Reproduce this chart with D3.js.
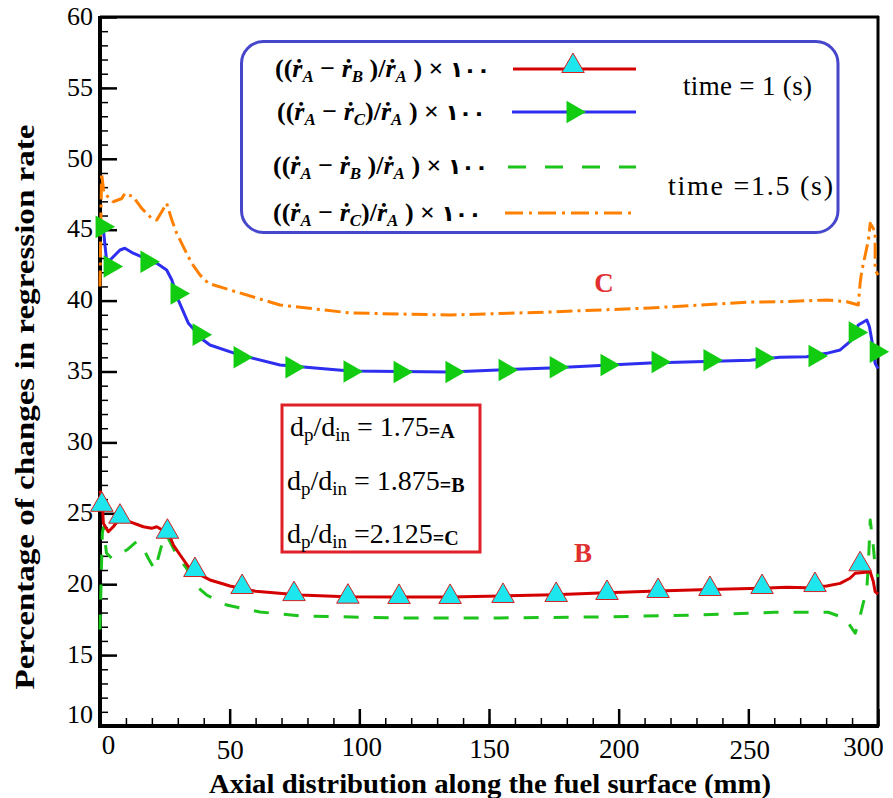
<!DOCTYPE html>
<html>
<head>
<meta charset="utf-8">
<script src="https://cdn.jsdelivr.net/npm/d3@7"></script>
<style>
  body { margin: 0; background: #fff; }
  text { font-family: "Liberation Serif", "Times New Roman", serif; }
</style>
</head>
<body>
<div id="chart"></div>
<script>

var width = 893;
var height = 798;

// axis ticks
var xTicks = [0, 50, 100, 150, 200, 250, 300];
var yTicks = [10, 15, 20, 25, 30, 35, 40, 45, 50, 55, 60];

// time = 1 s, (rA - rB)/rA
var curveB1 = [[0, 26.6], [0.7, 26.2], [1.3, 24.3], [3.2, 23.7], [5.1, 24.05], [7.7, 24.65], [11.6, 24.4],
	[16.7, 24.05], [19.9, 23.94], [21.9, 24.05], [25.1, 23.7], [27, 23.35], [28.3, 22.76], [30.9, 22.06],
	[34.1, 21.23], [37.3, 20.77], [42.4, 20.3], [47.6, 20.01], [50.1, 19.87], [60, 19.5], [77.1, 19.24],
	[95, 19.12], [115.7, 19.1], [135, 19.1], [154.3, 19.17], [175, 19.25], [192.8, 19.38], [215, 19.52],
	[231.4, 19.6], [254.5, 19.71], [264.8, 19.78], [272.5, 19.75], [280.2, 19.87], [285.4, 20.06],
	[289.2, 20.42], [291.2, 20.77], [297, 20.88], [298.2, 20.18], [298.9, 19.47], [300, 19.3]];
var markB1 = [[0.7, 25.6], [7.7, 24.76], [26, 23.7], [36.6, 21], [54.8, 19.8], [74.8, 19.3], [95.6, 19.12],
	[115.3, 19.1], [135, 19.1], [155.4, 19.17], [175.9, 19.24], [195.5, 19.38], [215.2, 19.52],
	[235.2, 19.66], [255.3, 19.8], [275.7, 19.94], [293.1, 21.4]];

// time = 1 s, (rA - rC)/rA
var curveC1 = [[0, 45.6], [1.2, 45.2], [2.5, 42.9], [3.9, 42.86], [7.7, 43.57], [9.6, 43.69], [12.8, 43.34],
	[21.9, 42.63], [25.7, 42.16], [27.7, 41.45], [30.2, 40.04], [34.1, 38.4], [39.8, 37.22], [42.4, 36.87],
	[54, 36.16], [69.4, 35.46], [96.4, 35.04], [135, 34.97], [173.5, 35.25], [212, 35.6], [250.7, 35.8],
	[262.2, 36.0], [272.5, 36.04], [280.2, 36.28], [285.4, 36.52], [289.2, 37.1], [292.4, 38.28],
	[295.7, 38.63], [296.7, 38.16], [297.6, 37.22], [298.9, 35.58], [300, 35.2]];
var markC1 = [[0.8, 45.2], [3.9, 42.4], [18.1, 42.74], [29.7, 40.5], [38.2, 37.6], [54, 36], [74, 35.3],
	[96.4, 35.0], [115.7, 34.97], [135.7, 34.97], [156.2, 35.1], [175.9, 35.3], [195.5, 35.46],
	[215.2, 35.67], [235.2, 35.8], [255.3, 35.95], [275.7, 36.1], [291.2, 37.75], [299.3, 36.4]];

// time = 1.5 s, (rA - rB)/rA
var curveB15 = [[0, 16.8], [0.4, 20], [0.9, 23.6], [1.3, 24], [2.5, 22.2], [4.5, 21.83], [6.4, 22.06],
	[10.3, 22.41], [14.1, 23.0], [16.5, 22.6], [18.6, 21.83], [21.2, 21.0], [23.8, 22.76], [25.7, 23.47],
	[29.6, 22.06], [33.4, 21.12], [36.6, 19.94], [41.1, 19.24], [48.9, 18.53], [61.7, 18.04], [77.1, 17.76],
	[115.7, 17.62], [154.3, 17.62], [192.8, 17.69], [231.4, 17.83], [260, 18.02], [280.8, 18.02],
	[287.3, 17.6], [291.2, 16.54], [292.4, 17.24], [295.7, 19.71], [296.3, 21.47], [297, 24.53],
	[298.2, 22.64], [298.9, 21.23], [300, 20.5]];

// time = 1.5 s, (rA - rC)/rA
var curveC15 = [[0, 41], [0.3, 45], [0.6, 49], [1.5, 47.6], [5.1, 46.97], [8.4, 47.2], [9.6, 47.56],
	[12.8, 47.33], [16.1, 46.5], [19.9, 45.8], [21.9, 45.68], [23.8, 46.27], [25.7, 46.86], [27.7, 45.68],
	[29.6, 44.74], [31.5, 44.04], [33.4, 43.33], [35.4, 42.63], [38.6, 41.8], [41.8, 41.22], [50.1, 40.75],
	[69.4, 39.69], [96.4, 39.13], [135, 38.98], [173.5, 39.2], [212.1, 39.48], [250.7, 39.9],
	[262.2, 39.92], [280.2, 40.04], [288, 39.92], [292.4, 39.69], [293.1, 41.22], [293.7, 42.04],
	[296.3, 44.27], [297, 45.45], [298.9, 44.86], [298.9, 42.16], [300, 41.8]];

var redLine = '#d40000', blueLine = '#2e2ef0', greenLine = '#1cc41c', orangeLine = '#ff8000';

var svg = d3.select('#chart')
	.append('svg')
	.attr('width', width)
	.attr('height', height);

var x = d3.scaleLinear().domain([0, 300]).range([100, 878]);
var y = d3.scaleLinear().domain([10, 60]).range([726, 17]);

// minor ticks (inside)
svg.append('g')
	.attr('transform', 'translate(0,726)')
	.call(d3.axisBottom(x).tickValues(d3.range(0, 301, 10)).tickSize(-8).tickFormat(''))
	.call(function(g) { g.select('.domain').remove(); g.selectAll('line').attr('stroke-width', 1.5); });
svg.append('g')
	.attr('transform', 'translate(100,0)')
	.call(d3.axisLeft(y).tickValues(d3.range(10, 61, 1)).tickSize(-8).tickFormat(''))
	.call(function(g) { g.select('.domain').remove(); g.selectAll('line').attr('stroke-width', 1.5); });

// major ticks with labels; the x labels sit a bit unevenly in the original
var xLabelShift = { 0: [8, 0], 50: [0, 5], 100: [2, 2], 150: [0, 4], 200: [0, 4], 250: [1, 5], 300: [-15, 2] };

var xAxis = svg.append('g')
	.attr('transform', 'translate(0,726)')
	.call(d3.axisBottom(x).tickValues(xTicks).tickSize(-17).tickPadding(9));
xAxis.select('.domain').remove();
xAxis.selectAll('line').attr('stroke-width', 2.5);
xAxis.selectAll('text')
	.attr('font-family', '"Liberation Serif", serif')
	.attr('font-size', 27)
	.attr('fill', '#000')
	.attr('transform', function(d) { return 'translate(' + xLabelShift[d][0] + ',' + xLabelShift[d][1] + ')'; });

var yAxis = svg.append('g')
	.attr('transform', 'translate(100,0)')
	.call(d3.axisLeft(y).tickValues(yTicks).tickSize(-17).tickPadding(7));
yAxis.select('.domain').remove();
yAxis.selectAll('line').attr('stroke-width', 2.5);
yAxis.selectAll('text')
	.attr('font-family', '"Liberation Serif", serif')
	.attr('font-size', 26)
	.attr('fill', '#000')
	.attr('dy', function(d) { return d == 10 ? '-0.12em' : '0.28em'; });

// frame
svg.append('line').attr('x1', 100).attr('x2', 100).attr('y1', 16).attr('y2', 728)
	.attr('stroke', '#000').attr('stroke-width', 4);
svg.append('line').attr('x1', 98).attr('x2', 879).attr('y1', 726).attr('y2', 726)
	.attr('stroke', '#000').attr('stroke-width', 4);
svg.append('line').attr('x1', 100).attr('x2', 879).attr('y1', 17).attr('y2', 17)
	.attr('stroke', '#000').attr('stroke-width', 3);
svg.append('line').attr('x1', 878).attr('x2', 878).attr('y1', 16).attr('y2', 727)
	.attr('stroke', '#000').attr('stroke-width', 3);

var line = d3.line()
	.x(function(d) { return x(d[0]); })
	.y(function(d) { return y(d[1]); });

function drawCurve(data, color, dash) {
	svg.append('path')
		.datum(data)
		.attr('d', line)
		.attr('fill', 'none')
		.attr('stroke', color)
		.attr('stroke-width', 3)
		.attr('stroke-linejoin', 'round')
		.attr('stroke-dasharray', dash);
}

drawCurve(curveC15, orangeLine, '16,5,3,5');
drawCurve(curveB15, greenLine, '15,15');
drawCurve(curveC1, blueLine, null);
drawCurve(curveB1, redLine, null);

var tri = d3.symbol().type(d3.symbolTriangle).size(220);

svg.selectAll('.markC')
	.data(markC1).enter()
	.append('path')
	.attr('d', tri)
	.attr('transform', function(d) { return 'translate(' + x(d[0]) + ',' + y(d[1]) + ') rotate(90)'; })
	.attr('fill', '#12cc12');

svg.selectAll('.markB')
	.data(markB1).enter()
	.append('path')
	.attr('d', tri)
	.attr('transform', function(d) { return 'translate(' + x(d[0]) + ',' + y(d[1]) + ')'; })
	.attr('fill', '#1ee6ee')
	.attr('stroke', '#d42020')
	.attr('stroke-width', 1);

// curve labels
svg.append('text').attr('x', 604).attr('y', 292).attr('text-anchor', 'middle')
	.attr('font-size', 27).attr('font-weight', 'bold').attr('fill', '#e03030').text('C');
svg.append('text').attr('x', 583).attr('y', 562).attr('text-anchor', 'middle')
	.attr('font-size', 27).attr('font-weight', 'bold').attr('fill', '#e03030').text('B');

// legend box
svg.append('rect')
	.attr('x', 241.5).attr('y', 41.5)
	.attr('width', 596.5).attr('height', 191)
	.attr('rx', 22)
	.attr('fill', '#fff')
	.attr('stroke', '#4646cc')
	.attr('stroke-width', 3);

function rateText(tx, ty, sub2) {
	var t = svg.append('text')
		.attr('x', tx).attr('y', ty)
		.attr('font-size', 26)
		.attr('font-weight', 'bold')
		.attr('fill', '#000');
	var gap = sub2 == 'B' ? ' )/' : ')/';
	var parts = [['((', 0], ['\u1E59', 1], ['A', 2], [' \u2212 ', 0], ['\u1E59', 1], [sub2, 2],
		[gap, 0], ['\u1E59', 1], ['A', 2], [' ) \u00D7 ', 0], ['\u0661\u0660\u0660', 3]];
	var shifted = false;
	parts.forEach(function(p) {
		var s = t.append('tspan').text(p[0]);
		if (p[1] == 1) s.attr('font-style', 'italic');
		if (p[1] == 2) {
			s.attr('font-style', 'italic').attr('font-size', 17).attr('dy', 5);
			shifted = true;
		} else if (shifted) {
			s.attr('dy', -5);
			shifted = false;
		}
		if (p[1] == 3) s.attr('font-family', '"DejaVu Sans", sans-serif').attr('font-size', 22).attr('letter-spacing', 2);
	});
}

rateText(275, 77, 'B');
rateText(277, 120, 'C');
rateText(273, 174, 'B');
rateText(273, 221, 'C');

// legend samples
svg.append('line').attr('x1', 513).attr('x2', 636).attr('y1', 69).attr('y2', 69)
	.attr('stroke', redLine).attr('stroke-width', 3);
svg.append('path').attr('d', tri).attr('transform', 'translate(573,66)')
	.attr('fill', '#1ee6ee').attr('stroke', '#d42020').attr('stroke-width', 1);
svg.append('line').attr('x1', 512).attr('x2', 636).attr('y1', 112).attr('y2', 112)
	.attr('stroke', blueLine).attr('stroke-width', 3);
svg.append('path').attr('d', tri).attr('transform', 'translate(573,112) rotate(90)')
	.attr('fill', '#12cc12');
svg.append('line').attr('x1', 508).attr('x2', 636).attr('y1', 167).attr('y2', 167)
	.attr('stroke', greenLine).attr('stroke-width', 3).attr('stroke-dasharray', '18,19');
svg.append('line').attr('x1', 505).attr('x2', 636).attr('y1', 213).attr('y2', 213)
	.attr('stroke', orangeLine).attr('stroke-width', 3).attr('stroke-dasharray', '18,6,3,6');

svg.append('text').attr('x', 683).attr('y', 95).attr('font-size', 27)
	.attr('textLength', 129).attr('lengthAdjust', 'spacing').text('time = 1 (s)');
svg.append('text').attr('x', 668).attr('y', 195).attr('font-size', 28)
	.attr('textLength', 165).attr('lengthAdjust', 'spacing').text('time =1.5 (s)');

// diameter ratio box
svg.append('rect')
	.attr('x', 282).attr('y', 405)
	.attr('width', 198).attr('height', 147)
	.attr('fill', '#fff')
	.attr('stroke', '#e02028')
	.attr('stroke-width', 3);

var ratios = ['1.75', '1.875', '2.125'];
var ratioNames = ['A', 'B', 'C'];
ratios.forEach(function(r, i) {
	var t = svg.append('text')
		.attr('x', i == 0 ? 290 : 287).attr('y', 436 + i * 53.5)
		.attr('font-size', 28).attr('fill', '#000');
	t.append('tspan').text('d');
	t.append('tspan').attr('font-size', 19).attr('dy', 5).text('p');
	t.append('tspan').attr('dy', -5).text('/d');
	t.append('tspan').attr('font-size', 19).attr('dy', 5).text('in');
	t.append('tspan').attr('dy', -5).text(i == 2 ? ' =' + r : ' = ' + r);
	t.append('tspan').attr('font-size', 20).attr('font-weight', 'bold').attr('dy', 2).text('=' + ratioNames[i]);
});

// axis titles
svg.append('text')
	.attr('x', 490).attr('y', 793)
	.attr('text-anchor', 'middle')
	.attr('font-size', 28).attr('font-weight', 'bold')
	.attr('textLength', 562).attr('lengthAdjust', 'spacingAndGlyphs')
	.text('Axial distribution along the fuel surface (mm)');

svg.append('text')
	.attr('transform', 'translate(34,407) rotate(-90)')
	.attr('text-anchor', 'middle')
	.attr('font-size', 28).attr('font-weight', 'bold')
	.attr('textLength', 565).attr('lengthAdjust', 'spacingAndGlyphs')
	.text('Percentage of changes in regression rate');

</script>
</body>
</html>
